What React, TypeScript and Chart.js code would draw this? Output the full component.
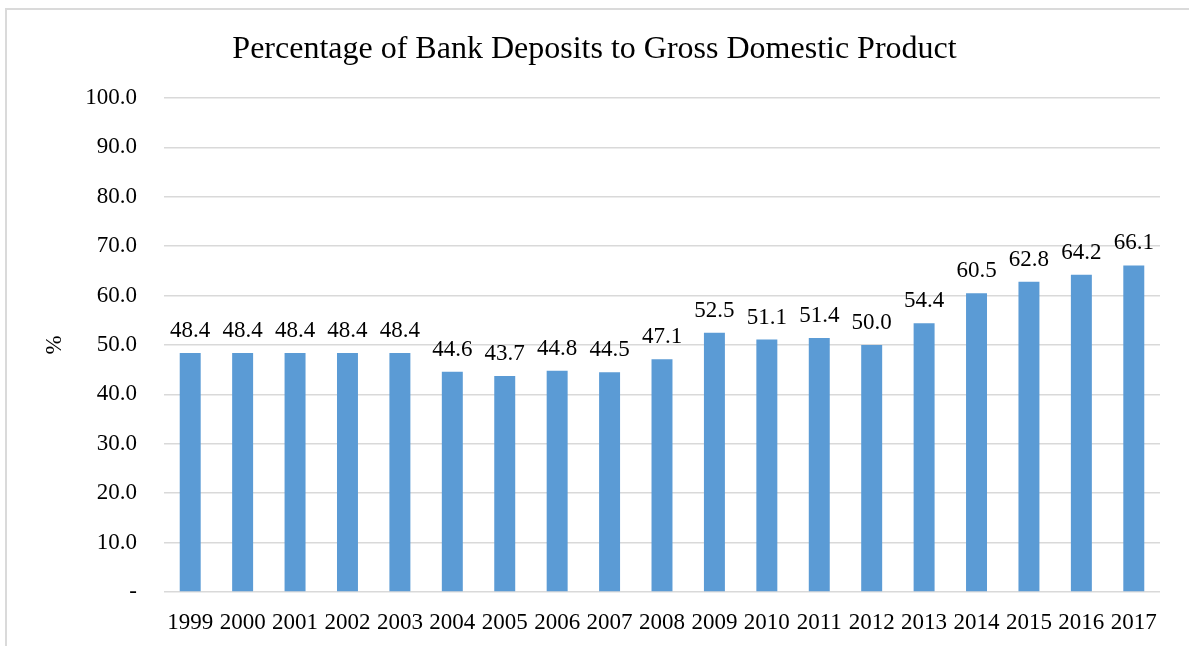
import React, { useEffect, useRef } from "react";
import { Chart, registerables } from "chart.js";

Chart.register(...registerables);

const years = ["1999","2000","2001","2002","2003","2004","2005","2006","2007","2008","2009","2010","2011","2012","2013","2014","2015","2016","2017"];
const depositsPct = [48.4,48.4,48.4,48.4,48.4,44.6,43.7,44.8,44.5,47.1,52.5,51.1,51.4,50.0,54.4,60.5,62.8,64.2,66.1];
const yTicks = [0,10,20,30,40,50,60,70,80,90,100];

const FONT = "'Liberation Serif', 'Times New Roman', serif";

const dataLabels = {
  id: "dataLabels",
  afterDatasetsDraw(chart: any) {
    const ctx = chart.ctx;
    const meta = chart.getDatasetMeta(0);
    ctx.save();
    ctx.font = `23px ${FONT}`;
    ctx.fillStyle = "#000";
    ctx.textAlign = "center";
    ctx.textBaseline = "alphabetic";
    meta.data.forEach((bar: any, i: number) => {
      ctx.fillText(depositsPct[i].toFixed(1), bar.x, bar.y - 16);
    });
    ctx.restore();
  },
};

export default function App() {
  const ref = useRef<HTMLCanvasElement>(null);
  useEffect(() => {
    const chart = new Chart(ref.current!, {
      type: "bar",
      data: {
        labels: years,
        datasets: [
          {
            data: depositsPct,
            backgroundColor: "#5B9BD5",
            categoryPercentage: 1,
            barPercentage: 0.4,
          },
        ],
      },
      options: {
        responsive: false,
        animation: false,
        layout: { padding: 0 },
        plugins: {
          legend: { display: false },
          tooltip: { enabled: false },
          title: {
            display: true,
            text: "Percentage of Bank Deposits to Gross Domestic Product",
            color: "#000",
            font: { family: FONT, size: 32, weight: "normal", lineHeight: 1.2 },
            padding: { top: 30, bottom: 29.6 },
          },
        },
        scales: {
          x: {
            grid: { display: false, drawTicks: false },
            border: { display: false },
            ticks: { color: "#000", font: { family: FONT, size: 23 }, padding: 17, maxRotation: 0, autoSkip: false },
            afterFit(scale: any) { scale.height = 54; },
          },
          y: {
            min: 0,
            max: 100,
            afterBuildTicks(scale: any) { scale.ticks = yTicks.map((v) => ({ value: v })); },
            grid: { color: "#d9d9d9", lineWidth: 1.5, drawTicks: false },
            border: { display: false },
            ticks: {
              color: "#000",
              font: { family: FONT, size: 23 },
              padding: 27,
              callback: (v: any) => (Number(v) === 0 ? "-" : Number(v).toFixed(1)),
            },
            title: {
              display: true,
              text: "%",
              color: "#000",
              font: { family: FONT, size: 23 },
              padding: { top: 41, bottom: 0 },
            },
            afterFit(scale: any) { scale.width = 164; },
          },
          yRightSpace: {
            position: "right",
            min: 0,
            max: 100,
            grid: { display: false, drawTicks: false },
            border: { display: false },
            ticks: { display: false },
            afterFit(scale: any) { scale.width = 29; },
          },
        },
      },
      plugins: [dataLabels],
    } as any);
    return () => chart.destroy();
  }, []);
  return (
    <div style={{ position: "fixed", left: 0, top: 0, width: 1189, height: 646, overflow: "hidden", background: "#fff" }}>
      <div style={{ position: "absolute", left: 5, top: 8, width: 1300, height: 800, border: "2px solid #dadada", boxSizing: "border-box" }} />
      <canvas ref={ref} width={1189} height={646} style={{ position: "absolute", left: 0, top: 0, width: 1189, height: 646 }} />
    </div>
  );
}
